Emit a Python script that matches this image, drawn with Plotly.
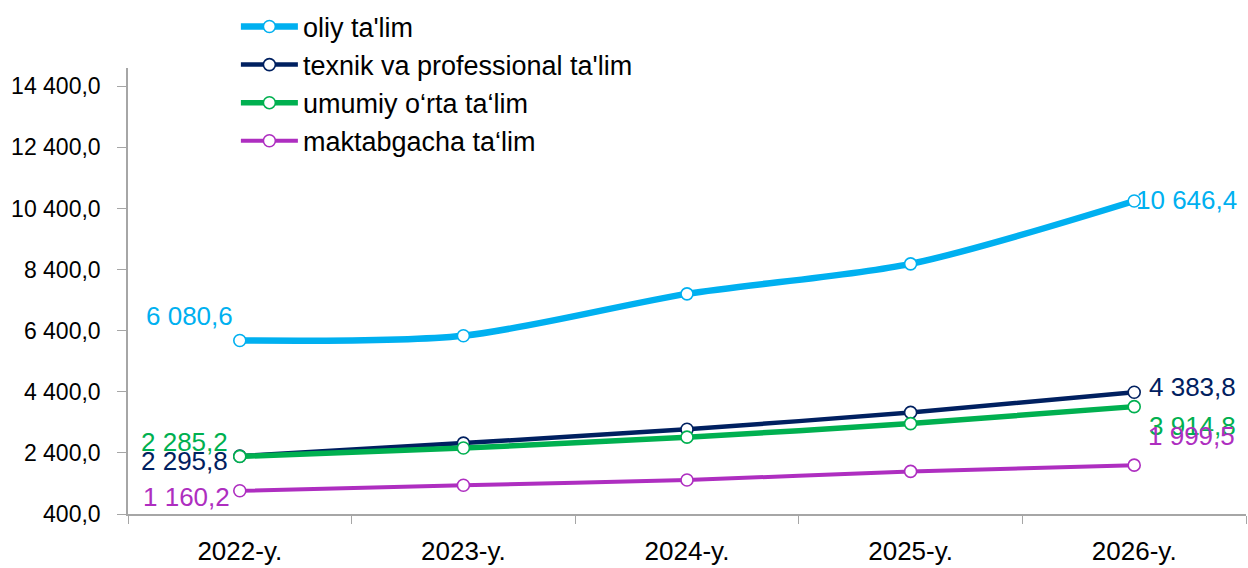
"""
Education spending by level, 2022-2026 (smoothed lines, first/last labels).
"""

import plotly.graph_objects as go

# ── Data ─────────────────────────────────────────────────────────────────────
years = ["2022-y.", "2023-y.", "2024-y.", "2025-y.", "2026-y."]

series_names = [
    "oliy ta'lim",
    "texnik va professional ta'lim",
    "umumiy o\u2018rta ta\u2018lim",
    "maktabgacha ta\u2018lim",
]
oliy = [6080.6, 6235.0, 7606.0, 8588.0, 10646.4]
texnik = [2295.8, 2721.0, 3175.0, 3726.0, 4383.8]
umumiy = [2285.2, 2559.0, 2915.0, 3359.0, 3914.8]
maktab = [1160.2, 1340.0, 1512.0, 1794.0, 1999.5]

y_ticks = [400, 2400, 4400, 6400, 8400, 10400, 12400, 14400]

# ── Styling ──────────────────────────────────────────────────────────────────
FONT = "Liberation Sans, Arial, sans-serif"
colors = ["#00B0F0", "#002060", "#00B050", "#AE2EC0"]
widths = [6.5, 4.5, 5.5, 4]

# label offsets (px) for first / last point: (xanchor, xshift, yshift)
first_pos = [("right", -5, 24), ("right", -10, -5), ("right", -10, 14), ("right", -8, -6)]
last_pos = [("left", 0, 1), ("left", 13, 5), ("left", 13, -19), ("left", 12, 29)]


def fmt(v: float) -> str:
    s = f"{v:,.1f}"
    return s.replace(",", " ").replace(".", ",")


fig = go.Figure()

all_series = [oliy, texnik, umumiy, maktab]
for name, vals, col, w in zip(series_names, all_series, colors, widths):
    fig.add_trace(
        go.Scatter(
            x=years,
            y=vals,
            name=name,
            mode="lines+markers",
            line=dict(color=col, width=w, shape="spline", smoothing=0.8),
            marker=dict(symbol="circle", size=12, color="white",
                        line=dict(color=col, width=1.6)),
            cliponaxis=False,
        )
    )

# first / last value labels
for vals, col, fp, lp in zip(all_series, colors, first_pos, last_pos):
    for idx, (xa, xs, ys) in ((0, fp), (len(vals) - 1, lp)):
        fig.add_annotation(
            x=years[idx], y=vals[idx], xref="x", yref="y",
            text=fmt(vals[idx]), showarrow=False,
            xanchor=xa, yanchor="middle", xshift=xs, yshift=ys,
            font=dict(family=FONT, size=26, color=col),
        )

fig.update_layout(
    width=1248,
    height=568,
    margin=dict(l=128, r=2, t=68, b=47),
    plot_bgcolor="white",
    paper_bgcolor="white",
    font=dict(family=FONT, color="#000000"),
    showlegend=True,
    legend=dict(
        x=0.0965, xanchor="left",
        y=1.147, yanchor="top",
        font=dict(family=FONT, size=27, color="#000000"),
        bgcolor="rgba(0,0,0,0)",
        itemwidth=57,
        tracegroupgap=0,
    ),
)

fig.update_xaxes(
    type="category",
    range=[-0.5, 4.5],
    showline=True, linecolor="#A6A6A6", linewidth=2,
    ticks="outside", tickson="boundaries", ticklen=8, tickcolor="#A6A6A6",
    tickfont=dict(family=FONT, size=26, color="#000000"),
    showgrid=False, zeroline=False,
    ticklabelstandoff=13,
)
fig.update_yaxes(
    range=[400, 15000],
    tickvals=y_ticks,
    ticktext=[fmt(v) for v in y_ticks],
    showline=True, linecolor="#A6A6A6", linewidth=1.5,
    ticks="outside", ticklen=9, tickcolor="#A6A6A6",
    tickfont=dict(family=FONT, size=23, color="#000000"),
    showgrid=False, zeroline=False,
    ticklabelstandoff=12,
)

# drop the default page margin so the figure fills the 1248x568 window exactly
fig.write_html(
    "out.html",
    config={"displayModeBar": False},
    post_script="document.body.style.margin='0';document.body.style.overflow='hidden';",
)
